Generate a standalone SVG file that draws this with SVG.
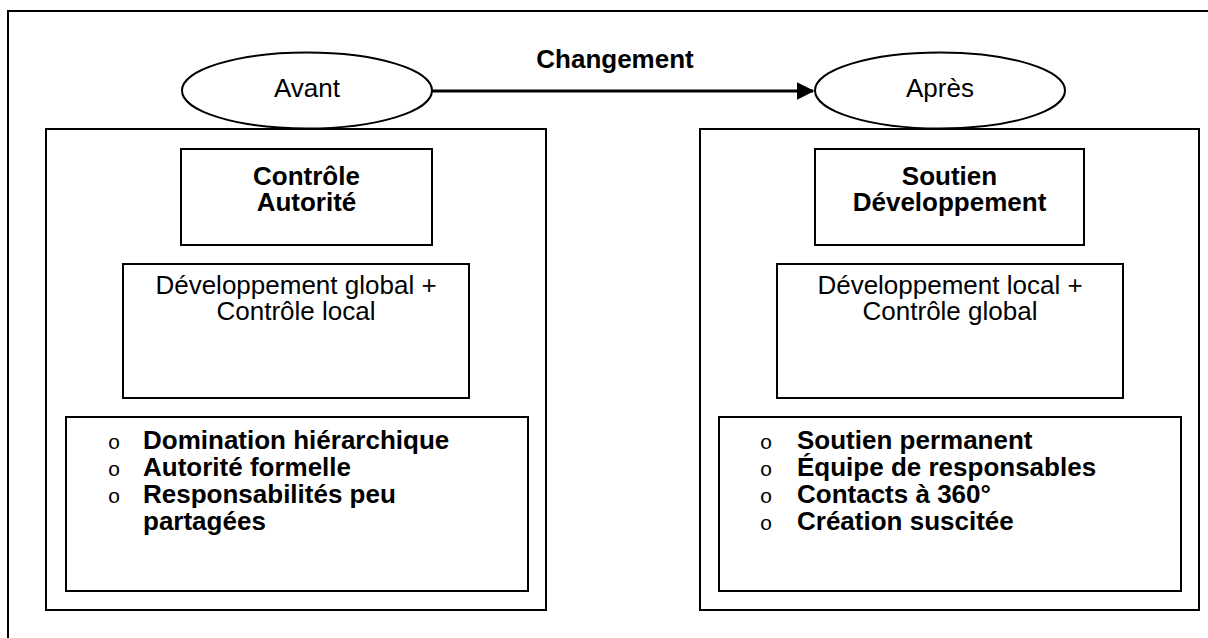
<svg xmlns="http://www.w3.org/2000/svg" width="1208" height="638" viewBox="0 0 1208 638">
<defs>
<style>
.box{fill:#fff;stroke:#000;stroke-width:2}
.t{font-family:"Liberation Sans",Arial,sans-serif;font-size:26px;fill:#000}
.c{text-anchor:middle}
.b{font-weight:bold}
.bul{font-family:"Liberation Mono","Courier New",monospace;font-size:21px;fill:#000}
</style>
<marker id="ah" markerWidth="6" markerHeight="6" refX="5.5" refY="3" orient="auto" markerUnits="strokeWidth">
<path d="M0,0 L6,3 L0,6 Z" fill="#000"/>
</marker>
</defs>
<rect x="0" y="0" width="1208" height="638" fill="#fff"/>
<rect id="frame" x="8" y="11" width="1220" height="650" fill="none" stroke="#000" stroke-width="2"/>

<g id="before">
<rect class="box" x="46" y="129" width="500" height="481"/>
</g>
<g id="after">
<rect class="box" x="700" y="129" width="499" height="481"/>
</g>

<g id="avant">
<ellipse class="box" cx="307" cy="90.5" rx="125" ry="38"/>
<text class="t c" x="307" y="97">Avant</text>
</g>
<g id="apres">
<ellipse class="box" cx="940" cy="90.5" rx="125" ry="38"/>
<text class="t c" x="940" y="97">Après</text>
</g>

<g id="connectors">
<line x1="432" y1="91" x2="813" y2="91" stroke="#000" stroke-width="3" marker-end="url(#ah)"/>
<text class="t c b" x="615" y="68">Changement</text>
</g>

<g id="controle-autorite">
<rect class="box" x="181" y="149" width="251" height="96"/>
<text class="t c b" x="306.5" y="185">Contrôle</text>
<text class="t c b" x="306.5" y="211">Autorité</text>
</g>
<g id="dev-global">
<rect class="box" x="123" y="264" width="346" height="134"/>
<text class="t c" x="296" y="294">Développement global +</text>
<text class="t c" x="296" y="320">Contrôle local</text>
</g>
<g id="list-before">
<rect class="box" x="66" y="417" width="462" height="174"/>
<text class="bul c" x="114" y="449">o</text>
<text class="bul c" x="114" y="476">o</text>
<text class="bul c" x="114" y="503">o</text>
<text class="t b" x="143" y="449">Domination hiérarchique</text>
<text class="t b" x="143" y="476">Autorité formelle</text>
<text class="t b" x="143" y="503">Responsabilités peu</text>
<text class="t b" x="143" y="530">partagées</text>
</g>

<g id="soutien-dev">
<rect class="box" x="815" y="149" width="269" height="96"/>
<text class="t c b" x="949.5" y="185">Soutien</text>
<text class="t c b" x="949.5" y="211">Développement</text>
</g>
<g id="dev-local">
<rect class="box" x="777" y="264" width="346" height="134"/>
<text class="t c" x="950" y="294">Développement local +</text>
<text class="t c" x="950" y="320">Contrôle global</text>
</g>
<g id="list-after">
<rect class="box" x="719" y="417" width="462" height="174"/>
<text class="bul c" x="766" y="449">o</text>
<text class="bul c" x="766" y="476">o</text>
<text class="bul c" x="766" y="503">o</text>
<text class="bul c" x="766" y="530">o</text>
<text class="t b" x="797" y="449">Soutien permanent</text>
<text class="t b" x="797" y="476">Équipe de responsables</text>
<text class="t b" x="797" y="503">Contacts à 360°</text>
<text class="t b" x="797" y="530">Création suscitée</text>
</g>
</svg>
